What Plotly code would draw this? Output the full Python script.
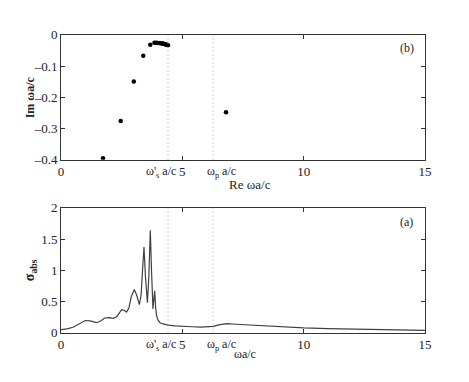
import plotly.graph_objects as go

# Top panel (b): complex resonance poles
pole_re = [1.73, 2.46, 3.00, 3.39, 3.68, 3.85, 3.92, 3.98, 4.04, 4.10, 4.15, 4.20, 4.25, 4.29, 4.33, 4.37, 4.41, 6.80]
pole_im = [-0.395, -0.276, -0.149, -0.067, -0.032, -0.025, -0.025, -0.026, -0.026, -0.027, -0.028, -0.028, -0.029, -0.030, -0.031, -0.032, -0.033, -0.248]

# Bottom panel (a): absorption cross-section
freq = [0, 0.25, 0.5, 0.75, 1.0, 1.2, 1.47, 1.65, 1.8, 2.0, 2.16, 2.3, 2.5, 2.6, 2.7, 2.8, 2.9, 3.02, 3.12, 3.23,
        3.3, 3.36, 3.42, 3.48, 3.56, 3.62, 3.68, 3.73, 3.79, 3.83, 3.86, 3.9, 3.94, 4.0, 4.08, 4.2, 4.42, 4.7,
        5.0, 5.4, 5.73, 6.0, 6.28, 6.5, 6.83, 7.2, 8, 9, 10, 11, 12, 13, 14, 15]
sigma = [0.05, 0.06, 0.087, 0.14, 0.195, 0.19, 0.16, 0.19, 0.235, 0.24, 0.23, 0.26, 0.37, 0.36, 0.33, 0.40,
         0.58, 0.69, 0.60, 0.45, 0.60, 1.00, 1.37, 0.90, 0.48, 0.90, 1.64, 1.00, 0.38, 0.55, 0.67, 0.40, 0.27,
         0.20, 0.16, 0.14, 0.12, 0.11, 0.10, 0.095, 0.09, 0.092, 0.10, 0.125, 0.145, 0.135, 0.115, 0.095,
         0.077, 0.065, 0.055, 0.047, 0.041, 0.036]

omega_s = 4.41
omega_p = 6.27
x_ticks = [0, 5, 10, 15]
im_ticks = [0, -0.1, -0.2, -0.3, -0.4]
im_ticktext = ["0", "–0.1", "–0.2", "–0.3", "–0.4"]
sig_ticks = [0, 0.5, 1, 1.5, 2]

FONT = "Liberation Serif, Times New Roman, serif"
AXC = "#333333"
W, H = 469, 382
L, R = 61, 425


def fy(py):
    return 1 - py / H


def fx(px):
    return (px - L) / (R - L)


fig = go.Figure()
fig.add_trace(go.Scatter(x=pole_re, y=pole_im, mode="markers",
                         marker=dict(color="black", size=4.5), xaxis="x", yaxis="y", showlegend=False))
fig.add_trace(go.Scatter(x=freq, y=sigma, mode="lines",
                         line=dict(color="#404040", width=1.2), xaxis="x2", yaxis="y2", showlegend=False))

axis_common = dict(showline=True, linecolor=AXC, linewidth=1, mirror="ticks", ticks="inside",
                   ticklen=4, tickcolor=AXC, showgrid=False, zeroline=False,
                   tickfont=dict(family=FONT, size=13, color="#222"))

fig.update_layout(
    width=W, height=H, plot_bgcolor="white", paper_bgcolor="white",
    margin=dict(l=L, r=W - R, t=0, b=0),
    font=dict(family=FONT, size=12, color="#222"),
    xaxis=dict(domain=[0, 1], range=[0, 15], tickvals=x_ticks, anchor="y", **axis_common),
    yaxis=dict(domain=[fy(159), fy(29)], range=[-0.4, 0], tickvals=im_ticks, ticktext=im_ticktext,
               anchor="x", **axis_common),
    xaxis2=dict(domain=[0, 1], range=[0, 15], tickvals=x_ticks, anchor="y2", **axis_common),
    yaxis2=dict(domain=[fy(339), fy(209)], range=[0, 2], tickvals=sig_ticks,
                anchor="x2", **axis_common),
)

shapes = []
for xa, ya in (("x", "y"), ("x2", "y2")):
    for xv in (omega_s, omega_p):
        shapes.append(dict(type="line", xref=xa, yref=ya + " domain", x0=xv, x1=xv, y0=0, y1=1,
                           line=dict(color="#aaaaaa", width=1, dash="1px,3px")))
fig.update_layout(shapes=shapes)

ann = []
for xa, ya in (("x", "y"), ("x2", "y2")):
    ann.append(dict(xref=xa, yref=ya + " domain", x=5, xshift=-4, y=0, yshift=-2, showarrow=False,
                    text="ω'<sub>s</sub> a/c", font=dict(family=FONT, size=12), xanchor="right", yanchor="top"))
    ann.append(dict(xref=xa, yref=ya + " domain", x=5.95, y=0, yshift=-2, showarrow=False,
                    text="ω<sub>p</sub> a/c", font=dict(family=FONT, size=12), xanchor="left", yanchor="top"))
ann.append(dict(xref="paper", yref="paper", x=fx(407), y=fy(43), showarrow=False, text="(b)",
                font=dict(family=FONT, size=12), xanchor="center", yanchor="middle"))
ann.append(dict(xref="paper", yref="paper", x=fx(406), y=fy(224), showarrow=False, text="(a)",
                font=dict(family=FONT, size=12), xanchor="center", yanchor="middle"))
ann.append(dict(xref="paper", yref="paper", x=fx(250), y=fy(185), showarrow=False, text="Re ωa/c",
                font=dict(family=FONT, size=13), xanchor="center", yanchor="middle"))
ann.append(dict(xref="paper", yref="paper", x=fx(245), y=fy(361), showarrow=False, text="ωa/c",
                font=dict(family=FONT, size=12), xanchor="center", yanchor="middle"))
ann.append(dict(xref="paper", yref="paper", x=fx(30), y=fy(94), showarrow=False, text="<b>Im ωa/c</b>",
                textangle=-90, font=dict(family=FONT, size=12), xanchor="center", yanchor="middle"))
ann.append(dict(xref="paper", yref="paper", x=fx(30), y=fy(274), showarrow=False,
                text="<b>σ<sub>abs</sub></b>", textangle=-90, font=dict(family=FONT, size=14),
                xanchor="center", yanchor="middle"))
fig.update_layout(annotations=ann)

fig.write_html("out.html", config={"displayModeBar": False},
               post_script="document.body.style.margin='0';")
